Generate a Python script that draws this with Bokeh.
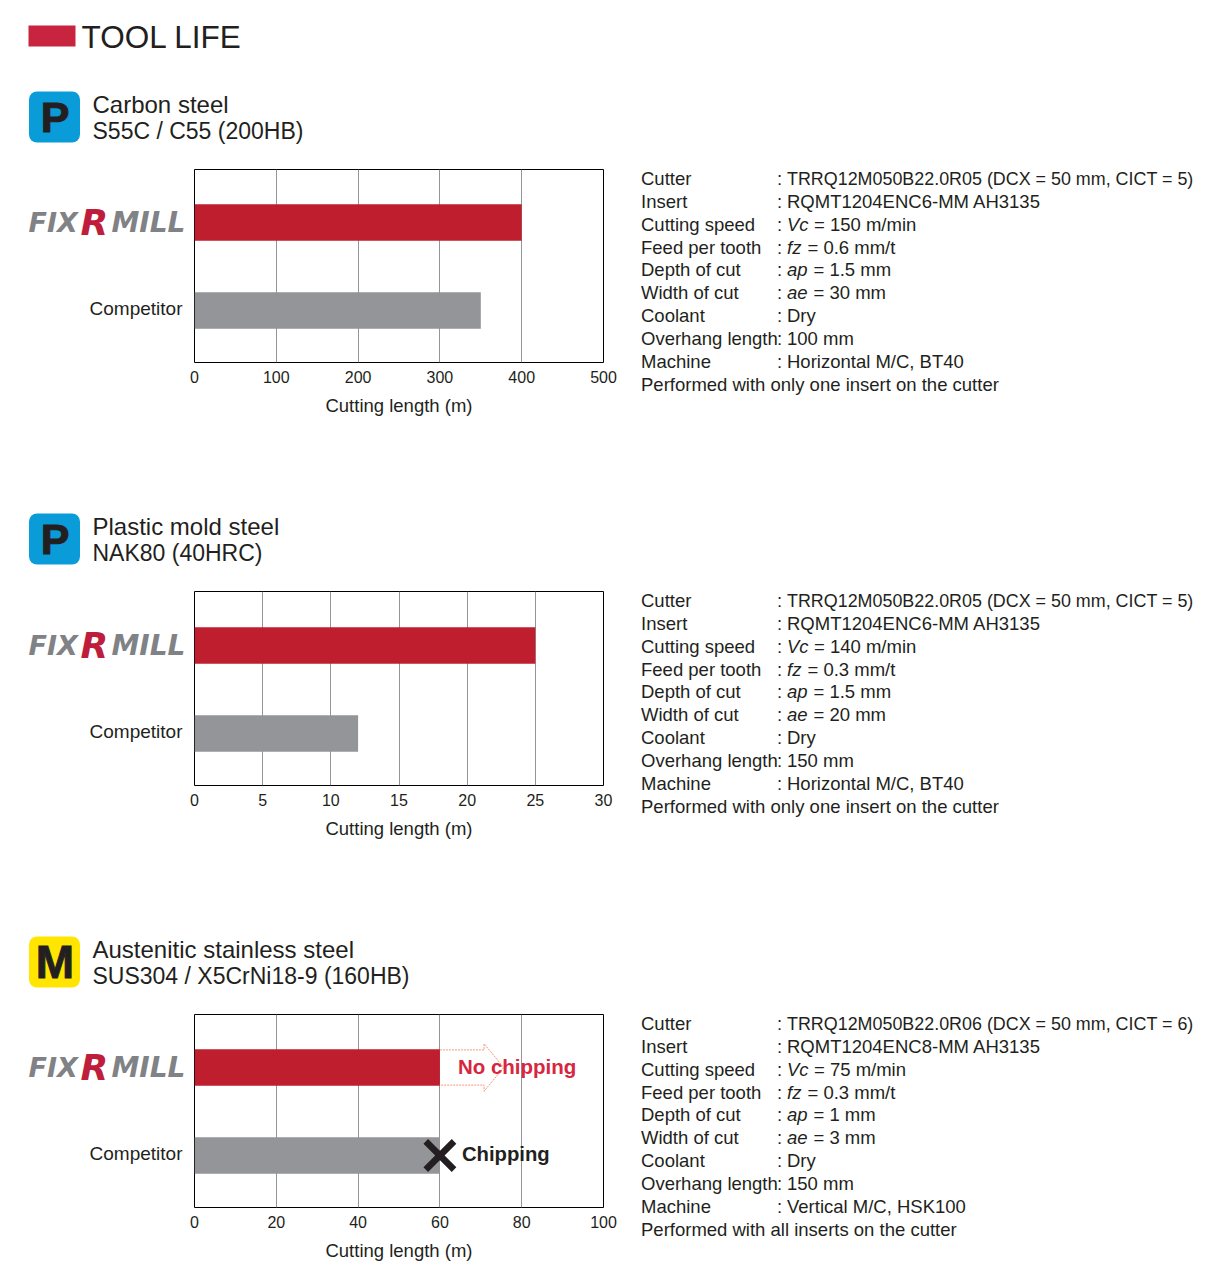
from bokeh.plotting import figure
from bokeh.layouts import column, row
from bokeh.models import FixedTicker, Range1d, ColumnDataSource
from bokeh.core.properties import value
from bokeh.embed import file_html
from bokeh.resources import INLINE

FONT = "Liberation Sans"
INK = "#231f20"
RED = "#be1e2d"
GREY = "#939598"

title_main = "TOOL LIFE"
categories = ["FIXRMILL", "Competitor"]
material_names = ["Carbon steel", "Plastic mold steel", "Austenitic stainless steel"]
material_grades = ["S55C / C55 (200HB)", "NAK80 (40HRC)", "SUS304 / X5CrNi18-9 (160HB)"]
badge_letters = ["P", "P", "M"]
badge_colors = ["#0a9bd9", "#0a9bd9", "#ffe500"]
fixrmill_values = [400, 25, 60]
competitor_values = [350, 12, 60]
x_maxima = [500, 30, 100]
x_ticks = [[0, 100, 200, 300, 400, 500], [0, 5, 10, 15, 20, 25, 30], [0, 20, 40, 60, 80, 100]]
axis_label = "Cutting length (m)"
param_names = ["Cutter", "Insert", "Cutting speed", "Feed per tooth", "Depth of cut",
               "Width of cut", "Coolant", "Overhang length", "Machine"]
cutters = ["TRRQ12M050B22.0R05 (DCX = 50 mm, CICT = 5)", "TRRQ12M050B22.0R05 (DCX = 50 mm, CICT = 5)",
           "TRRQ12M050B22.0R06 (DCX = 50 mm, CICT = 6)"]
inserts = ["RQMT1204ENC6-MM AH3135", "RQMT1204ENC6-MM AH3135", "RQMT1204ENC8-MM AH3135"]
speeds = ["= 150 m/min", "= 140 m/min", "= 75 m/min"]
feeds = ["= 0.6 mm/t", "= 0.3 mm/t", "= 0.3 mm/t"]
depths = ["= 1.5 mm", "= 1.5 mm", "= 1 mm"]
widths = ["= 30 mm", "= 20 mm", "= 3 mm"]
coolants = ["Dry", "Dry", "Dry"]
overhangs = ["100 mm", "150 mm", "150 mm"]
machines = ["Horizontal M/C, BT40", "Horizontal M/C, BT40", "Vertical M/C, HSK100"]
footers = ["Performed with only one insert on the cutter", "Performed with only one insert on the cutter",
           "Performed with all inserts on the cutter"]
arrow_x = [60, 70.8, 70.8, 75.6, 70.8, 70.8, 60]
arrow_y = [2.2, 2.2, 2.27, 2.0, 1.73, 1.8, 1.8]
note_labels = ["No chipping", "Chipping"]

FRAME_TOPS = [169, 591, 1014]
FRAME_BOTTOMS = [362, 785, 1207]
PAD_TOP = 5
PAD_BOTTOM = 60
LEFT_W = 186
CHART_W = 439
RIGHT_W = 579
PAGE_W = LEFT_W + CHART_W + RIGHT_W


def canvas(x0, x1, y0, y1, y_range=None, border_top=0, border_bottom=0):
    """Axis-free figure whose data coordinates are page pixels."""
    p = figure(width=x1 - x0, height=y1 - y0 if y_range is None else y1 - y0 + border_top + border_bottom,
               output_backend="svg", toolbar_location=None, tools="",
               x_range=Range1d(x0, x1), y_range=y_range or Range1d(y1, y0),
               x_axis_location=None, y_axis_location=None, outline_line_color=None,
               min_border_left=0, min_border_right=0, min_border_top=border_top, min_border_bottom=border_bottom)
    p.grid.visible = False
    return p


def put(p, x, y, text, size, color=INK, style="normal", font=FONT, baseline="middle", align="left", y_offset=0,
        outline=None):
    p.text([x], [y], text=[text], text_font=value(font), text_font_size=f"{size}px", text_color=color,
           text_font_style=style, text_baseline=baseline, text_align=align, y_offset=y_offset,
           text_outline_color=outline)


def header(i, y0, y1):
    p = canvas(0, PAGE_W, y0, y1)
    top = FRAME_TOPS[i]
    if i == 0:
        p.quad(left=[28], right=[75], top=[25], bottom=[46], fill_color="#c8243f", line_color=None)
        put(p, 81, 36, title_main, 31.5)
    p.quad(left=[28.5], right=[79.5], top=[top - 78], bottom=[top - 27], fill_color=badge_colors[i],
           line_color=None, border_radius=8)
    put(p, 54.5, top - 53, badge_letters[i], 43 if badge_letters[i] == "P" else 46, style="bold", align="center",
        outline=INK)
    put(p, 92, top - 65, material_names[i], 24)
    put(p, 92, top - 39, material_grades[i], 23)
    return p


def chart(i):
    top, bottom = FRAME_TOPS[i], FRAME_BOTTOMS[i]
    h = bottom - top
    yr = Range1d(1 - 52 / 88, 1 - 52 / 88 + h / 88)
    p = figure(width=CHART_W, height=h + PAD_TOP + PAD_BOTTOM, output_backend="svg", toolbar_location=None,
               x_range=Range1d(0, x_maxima[i]), y_range=yr, y_axis_location=None,
               min_border_left=8, min_border_right=CHART_W - 8 - 409, min_border_top=PAD_TOP,
               min_border_bottom=PAD_BOTTOM, tools="", outline_line_color="black", outline_line_width=1)
    p.ygrid.visible = False
    p.xgrid.ticker = FixedTicker(ticks=x_ticks[i])
    p.xgrid.grid_line_color = GREY

    ax = p.xaxis[0]
    ax.ticker = FixedTicker(ticks=x_ticks[i])
    ax.axis_line_color = None
    ax.major_tick_line_color = None
    ax.minor_tick_line_color = None
    ax.major_label_text_font = FONT
    ax.major_label_text_font_size = "16px"
    ax.major_label_text_color = INK
    ax.major_label_standoff = 2
    ax.axis_label = axis_label
    ax.axis_label_text_font = FONT
    ax.axis_label_text_font_style = "normal"
    ax.axis_label_text_font_size = "18.5px"
    ax.axis_label_text_color = INK
    ax.axis_label_standoff = 9

    src = ColumnDataSource(dict(y=[2, 1], v=[fixrmill_values[i], competitor_values[i]], c=[RED, GREY]))
    p.hbar(y="y", left=0, right="v", height=36.5 / 88, fill_color="c", line_color=None, source=src)

    if i == 2:
        p.line(arrow_x, arrow_y, line_color="#f7977a", line_width=1, line_dash="2 1")
        p.scatter([60], [1], marker="x", size=40, line_color=INK, line_width=6.5)
        p.text([60], [2], text=[note_labels[0]], x_offset=18, y_offset=-1, text_font=value(FONT),
               text_font_style="bold", text_font_size="20.5px", text_color="#d7263d", text_baseline="middle")
        p.text([60], [1], text=[note_labels[1]], x_offset=22, y_offset=-2, text_font=value(FONT),
               text_font_style="bold", text_font_size="20.3px", text_color=INK, text_baseline="middle")
    return p, yr


def left(i, yr):
    top, bottom = FRAME_TOPS[i], FRAME_BOTTOMS[i]
    p = canvas(0, LEFT_W, top, bottom, y_range=yr, border_top=PAD_TOP, border_bottom=PAD_BOTTOM)
    logo = "DejaVu Sans"
    put(p, 28, 2, "FIX", 27, "#808285", "bold italic", logo, "alphabetic", y_offset=0)
    put(p, 80, 2, "R", 36, "#be1e3c", "bold italic", logo, "alphabetic", y_offset=0)
    put(p, 111, 2, "MILL", 28, "#808285", "bold italic", logo, "alphabetic", y_offset=0)
    put(p, 182, 1, categories[1], 19, align="right", y_offset=-2)
    return p


def right(i):
    top, bottom = FRAME_TOPS[i], FRAME_BOTTOMS[i]
    x0 = LEFT_W + CHART_W
    p = canvas(x0, PAGE_W, top - PAD_TOP, bottom + PAD_BOTTOM)
    vals = [(None, cutters[i]), (None, inserts[i]), ("Vc", speeds[i]), ("fz", feeds[i]), ("ap", depths[i]),
            ("ae", widths[i]), (None, coolants[i]), (None, overhangs[i]), (None, machines[i])]
    ital_w = {"Vc": 21.5, "fz": 15, "ap": 21, "ae": 21}
    base = top + 9
    step = 22.87
    for k, name in enumerate(param_names):
        y = base + step * k
        put(p, 640.5, y, name, 18.5)
        put(p, 776.5, y, ":", 18.5)
        it, rest = vals[k]
        if it:
            put(p, 786.5, y, it, 18.5, style="italic")
            put(p, 786.5 + ital_w[it] + 5.5, y, rest, 18.5)
        else:
            put(p, 786.5, y, rest, 17.9 if k == 0 else 18.5)
    put(p, 640.5, base + step * 9, footers[i], 18.5)
    return p


parts = []
prev = 0
for i in range(3):
    parts.append(header(i, prev, FRAME_TOPS[i] - PAD_TOP))
    c, yr = chart(i)
    parts.append(row(row(left(i, yr), c, spacing=0), column(right(i)), spacing=0))
    prev = FRAME_BOTTOMS[i] + PAD_BOTTOM

layout = column(*parts, spacing=0)
open("out.html", "w").write(file_html(layout, INLINE))
